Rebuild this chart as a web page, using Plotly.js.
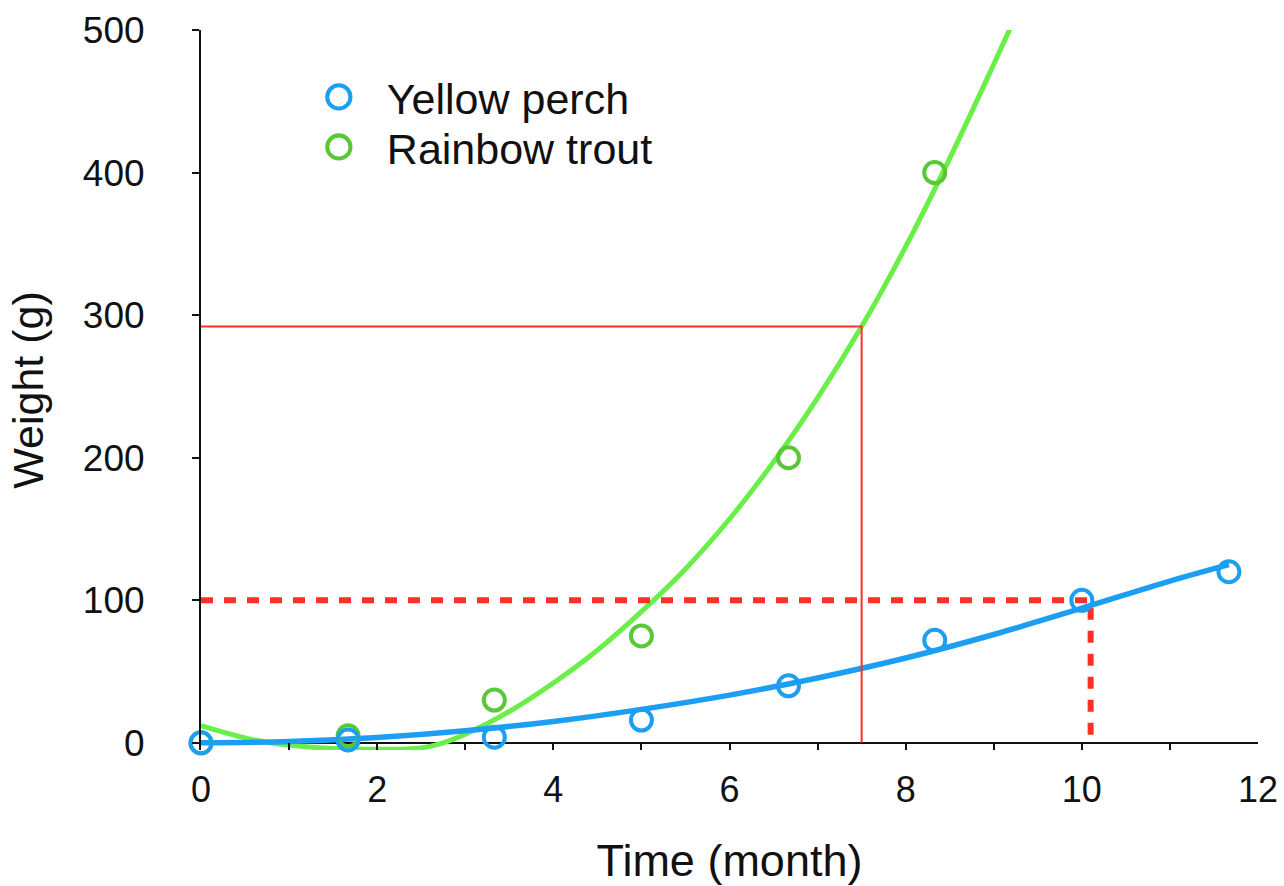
<!DOCTYPE html>
<html>
<head>
<meta charset="utf-8">
<script src="https://cdn.plot.ly/plotly-3.0.1.min.js"></script>
<style>html,body{margin:0;padding:0;background:#fff;}#chart{width:1284px;height:886px;}</style>
</head>
<body>
<div id="chart"></div>
<script>
// Measured data points
const monthX = [0, 1.67, 3.33, 5, 6.67, 8.33, 10, 11.67];
const perchWeight = [0, 2, 4, 16, 40, 72, 100, 120];
const troutX = [0, 1.67, 3.33, 5, 6.67, 8.33];
const troutWeight = [0, 5, 30, 75, 200, 400];

// Fitted curves
const perchFitX = [0, 1, 2, 3, 4, 5, 6, 7, 8, 9, 10, 11, 11.67];
const perchFitY = [0, 1, 3.8, 8.5, 15, 23.5, 33.5, 45.5, 59.5, 76, 94.5, 113.5, 125];
const troutFitX = [0, 0.25, 0.5, 0.75, 1, 1.5, 2, 2.5, 2.75, 3, 3.5, 4, 4.5, 5, 5.5, 6, 6.5, 7, 7.5, 8, 8.5, 9, 9.25];
const troutFitY = [12, 7.5, 3.5, 0.5, -1.5, -4, -4.5, -3.5, 0, 6, 22, 42, 65, 92, 122, 157, 197, 242, 292, 348, 410, 476, 510];

// Reading guides
const guideSolidX = [0, 7.5, 7.5];
const guideSolidY = [292, 292, 0];
const guideDashX = [0, 10.1, 10.1];
const guideDashY = [100, 100, 0];

// Axis ticks
const xTickVals = [0, 1, 2, 3, 4, 5, 6, 7, 8, 9, 10, 11, 12];
const xTickText = ['0', '', '2', '', '4', '', '6', '', '8', '', '10', '', '12'];
const yTickVals = [0, 100, 200, 300, 400, 500];

const BLUE = 'rgb(28,158,242)';
const GREEN_M = 'rgb(88,200,56)';
const GREEN_L = 'rgb(106,238,72)';
const RED = 'rgb(255,48,36)';
const FONT = 'Liberation Sans, Arial, sans-serif';

const traces = [
  {x: troutFitX, y: troutFitY, mode: 'lines', line: {color: GREEN_L, width: 5, shape: 'spline', smoothing: 1}, showlegend: false, hoverinfo: 'skip'},
  {x: perchFitX, y: perchFitY, mode: 'lines', line: {color: BLUE, width: 5.5, shape: 'spline', smoothing: 1}, showlegend: false, hoverinfo: 'skip'},
  {x: guideSolidX, y: guideSolidY, mode: 'lines', line: {color: RED, width: 2}, showlegend: false},
  {x: guideDashX, y: guideDashY, mode: 'lines', line: {color: RED, width: 6, dash: '12px,11px'}, showlegend: false},
  {x: troutX, y: troutWeight, mode: 'markers', name: 'Rainbow trout', cliponaxis: false, legend: 'legend2',
   marker: {symbol: 'circle-open', size: 21, color: GREEN_M, line: {color: GREEN_M, width: 4}}},
  {x: monthX, y: perchWeight, mode: 'markers', name: 'Yellow perch', cliponaxis: false, legend: 'legend',
   marker: {symbol: 'circle-open', size: 21, color: BLUE, line: {color: BLUE, width: 4}}}
];

const legendFont = {family: FONT, size: 43, color: '#111'};
const layout = {
  width: 1284, height: 886,
  margin: {l: 201, r: 26, t: 30, b: 136},
  paper_bgcolor: '#fff', plot_bgcolor: '#fff',
  font: {family: FONT, color: '#111'},
  showlegend: true,
  legend: {x: 0.085, y: 0.907, xanchor: 'left', yanchor: 'middle',
           font: legendFont, bgcolor: 'rgba(0,0,0,0)', itemwidth: 86},
  legend2: {x: 0.085, y: 0.8375, xanchor: 'left', yanchor: 'middle',
           font: legendFont, bgcolor: 'rgba(0,0,0,0)', itemwidth: 86},
  xaxis: {
    range: [0, 12], tickmode: 'array', tickvals: xTickVals, ticktext: xTickText,
    ticks: 'inside', ticklen: 7, tickwidth: 2, tickcolor: '#111',
    showline: false, showgrid: false, zeroline: false,
    tickfont: {family: FONT, size: 36, color: '#111'}, ticklabelstandoff: 15,
    title: {text: 'Time (month)', font: {family: FONT, size: 45, color: '#111'}, standoff: 38}
  },
  yaxis: {
    range: [-5, 500], tickmode: 'array', tickvals: yTickVals,
    ticks: 'outside', ticklen: 7, tickwidth: 2, tickcolor: '#111',
    showline: true, linecolor: '#111', linewidth: 2, showgrid: false,
    zeroline: true, zerolinecolor: '#111', zerolinewidth: 2,
    tickfont: {family: FONT, size: 37, color: '#111'}, ticklabelstandoff: 40,
    title: {text: 'Weight (g)', font: {family: FONT, size: 43, color: '#111'}, standoff: 26}
  }
};

Plotly.newPlot('chart', traces, layout, {displayModeBar: false, staticPlot: true}).then(function (gd) {
  // Legend symbols are size-capped by Plotly; enlarge them to match the data markers.
  gd.querySelectorAll('.legendpoints path.scatterpts').forEach(function (p) {
    const t = p.getAttribute('transform') || '';
    p.setAttribute('transform', t + ' scale(1.45)');
    p.style.strokeWidth = '2.8px';
  });
});
</script>
</body>
</html>
